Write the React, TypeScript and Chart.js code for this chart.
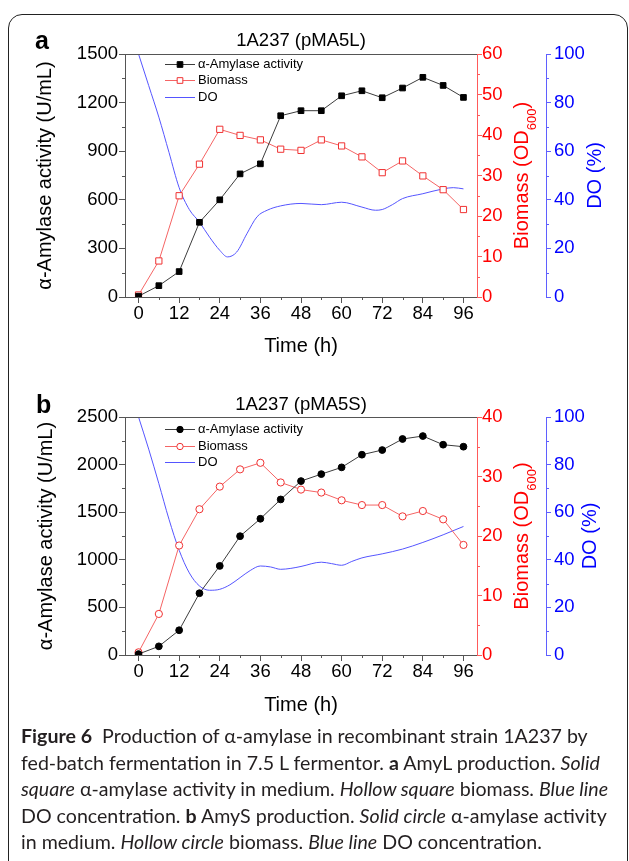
import React, { useEffect, useRef } from 'react';
import { Chart, registerables } from 'chart.js';

Chart.register(...registerables);

// ---------- data ----------
const hours = [0, 6, 12, 18, 24, 30, 36, 42, 48, 54, 60, 66, 72, 78, 84, 90, 96];

const amylaseA = [5, 70, 157, 461, 600, 760, 822, 1119, 1150, 1150, 1242, 1273, 1230, 1290, 1356, 1306, 1232];
const biomassA = [0.5, 8.9, 25.0, 32.8, 41.4, 39.9, 38.8, 36.5, 36.2, 38.8, 37.3, 34.6, 30.7, 33.6, 29.9, 26.5, 21.6];
const doHoursA = [0, 3, 6, 9, 12, 15, 18, 21, 24, 26.3, 29, 32, 35, 38, 42, 48, 54, 60, 66, 70, 72, 75, 78, 84, 90, 93, 96];
const doPercentA = [100, 87, 74, 59.5, 45, 36, 30.8, 24.6, 19.2, 16.5, 18.5, 26, 33, 35.7, 37.5, 38.5, 38, 39, 37, 35.7, 36, 38, 40.5, 42.5, 44.5, 45, 44.5];

const amylaseB = [10, 91, 260, 649, 936, 1248, 1431, 1634, 1827, 1900, 1971, 2104, 2153, 2269, 2300, 2209, 2188];
const biomassB = [0.45, 6.9, 18.4, 24.5, 28.3, 31.2, 32.3, 29.0, 27.8, 27.3, 26.0, 25.2, 25.2, 23.3, 24.2, 22.8, 18.5];
const doHoursB = [0, 3, 6, 9, 12, 15, 18, 21, 24, 27, 30, 33, 36, 39, 42, 45, 48, 54, 57, 60, 63, 66, 72, 78, 84, 90, 96];
const doPercentB = [100, 86.5, 72, 57, 44, 34.5, 29, 27.2, 27.6, 29.5, 32.5, 35.5, 37.4, 37, 36, 36.4, 37.2, 39, 38.4, 37.7, 39.3, 40.8, 42.5, 44.5, 47.3, 50.5, 54];

const xTicks = [0, 12, 24, 36, 48, 60, 72, 84, 96];
const xMinor = [6, 18, 30, 42, 54, 66, 78, 90];
const leftTicksA = [0, 300, 600, 900, 1200, 1500];
const leftMinorA = [150, 450, 750, 1050, 1350];
const redTicksA = [0, 10, 20, 30, 40, 50, 60];
const redMinorA = [5, 15, 25, 35, 45, 55];
const leftTicksB = [0, 500, 1000, 1500, 2000, 2500];
const leftMinorB = [250, 750, 1250, 1750, 2250];
const redTicksB = [0, 10, 20, 30, 40];
const redMinorB = [5, 15, 25, 35];
const doTicks = [0, 20, 40, 60, 80, 100];
const doMinor = [10, 30, 50, 70, 90];

const seriesNames = ['α-Amylase activity', 'Biomass', 'DO'];

// ---------- styles ----------
const FONT = "'Liberation Sans', Arial, sans-serif";
const AXIS = '#555555';
const RED_AXIS = 'rgb(255,90,90)';
const BLUE_AXIS = 'rgb(95,95,255)';
const RED_TXT = '#ff0000';
const BLUE_TXT = '#0000ff';
const AMY_LINE = '#3c3c3c';
const BIO_LINE = 'rgb(245,100,100)';
const BIO_MARK = 'rgb(240,50,50)';
const DO_LINE = 'rgb(85,85,255)';
const TICK_SIZE = 18.5;
const TITLE_SIZE = 20;

type Spec = {
  title: string;
  amylase: number[];
  biomass: number[];
  doX: number[];
  doY: number[];
  leftMax: number;
  leftTicks: number[];
  leftMinor: number[];
  redMax: number;
  redTicks: number[];
  redMinor: number[];
  marker: 'rect' | 'circle';
  canvasH: number;
  padTop: number;
  xHeight: number;
  xTitlePad: number;
  leftTitlePad: number;
  titleGap: number;
  bioTitleX: number;
  doTitleX: number;
  legendTop: number;
  legendGap: number;
};

function drawMarker(ctx: CanvasRenderingContext2D, kind: string, filled: boolean, x: number, y: number, r: number, stroke: string) {
  ctx.save();
  ctx.lineWidth = 1;
  ctx.strokeStyle = stroke;
  ctx.fillStyle = filled ? stroke : '#ffffff';
  ctx.beginPath();
  if (kind === 'rect') {
    const s = Math.SQRT1_2 * r;
    ctx.rect(x - s, y - s, 2 * s, 2 * s);
  } else {
    ctx.arc(x, y, r, 0, Math.PI * 2);
  }
  ctx.fill();
  ctx.stroke();
  ctx.restore();
}

function extrasPlugin(s: Spec) {
  return {
    id: 'panelExtras',
    afterDraw(chart: any) {
      const { ctx, chartArea: ca, scales } = chart;
      ctx.save();
      // top frame line
      ctx.strokeStyle = AXIS;
      ctx.lineWidth = 1;
      const ty = Math.round(ca.top) + 0.5;
      ctx.beginPath();
      ctx.moveTo(ca.left, ty);
      ctx.lineTo(ca.right, ty);
      ctx.stroke();

      // minor ticks
      const minor = (scale: any, values: number[], side: string, color: string, len: number) => {
        ctx.strokeStyle = color;
        ctx.lineWidth = 1;
        values.forEach((v) => {
          const p = Math.round(scale.getPixelForValue(v)) + 0.5;
          ctx.beginPath();
          if (side === 'left') {
            ctx.moveTo(scale.right, p);
            ctx.lineTo(scale.right - len, p);
          } else if (side === 'right') {
            ctx.moveTo(scale.left, p);
            ctx.lineTo(scale.left + len, p);
          } else {
            ctx.moveTo(p, scale.top);
            ctx.lineTo(p, scale.top + len);
          }
          ctx.stroke();
        });
      };
      minor(scales.x, xMinor, 'bottom', AXIS, 3);
      minor(scales.y, s.leftMinor, 'left', AXIS, 3);
      minor(scales.y2, s.redMinor, 'right', RED_AXIS, 3);
      minor(scales.y3, doMinor, 'right', BLUE_AXIS, 3);

      // panel title
      ctx.fillStyle = '#000';
      ctx.font = `18.5px ${FONT}`;
      ctx.textAlign = 'center';
      ctx.textBaseline = 'middle';
      ctx.fillText(s.title, (ca.left + ca.right) / 2, ca.top - s.titleGap);

      // right-axis titles (rotated, reading bottom-to-top)
      const cy = (ca.top + ca.bottom) / 2;
      ctx.textAlign = 'left';
      ctx.textBaseline = 'alphabetic';
      // Biomass (OD600)
      ctx.save();
      ctx.translate(s.bioTitleX, cy);
      ctx.rotate(-Math.PI / 2);
      ctx.fillStyle = RED_TXT;
      const big = `${TITLE_SIZE}px ${FONT}`;
      const small = `13px ${FONT}`;
      ctx.font = big;
      const w1 = ctx.measureText('Biomass (OD').width;
      const w3 = ctx.measureText(')').width;
      ctx.font = small;
      const w2 = ctx.measureText('600').width;
      const x0 = -(w1 + w2 + w3) / 2;
      ctx.font = big;
      ctx.fillText('Biomass (OD', x0, 0);
      ctx.font = small;
      ctx.fillText('600', x0 + w1, 8);
      ctx.font = big;
      ctx.fillText(')', x0 + w1 + w2, 0);
      ctx.restore();
      // DO (%)
      ctx.save();
      ctx.translate(s.doTitleX, cy);
      ctx.rotate(-Math.PI / 2);
      ctx.fillStyle = BLUE_TXT;
      ctx.font = big;
      const wd = ctx.measureText('DO (%)').width;
      ctx.fillText('DO (%)', -wd / 2, 0);
      ctx.restore();

      // legend
      const lx0 = ca.left + 40;
      const lx1 = ca.left + 70;
      const mx = ca.left + 55;
      const tx = ca.left + 73;
      ctx.font = `13px ${FONT}`;
      ctx.textAlign = 'left';
      ctx.textBaseline = 'middle';
      const rows = [
        { color: AMY_LINE, mark: true, filled: true, mcolor: '#000' },
        { color: BIO_LINE, mark: true, filled: false, mcolor: BIO_MARK },
        { color: DO_LINE, mark: false, filled: false, mcolor: DO_LINE },
      ];
      rows.forEach((r, i) => {
        const y = ca.top + s.legendTop + i * s.legendGap;
        const yy = Math.round(y) + 0.5;
        ctx.strokeStyle = r.color;
        ctx.lineWidth = 1;
        ctx.beginPath();
        ctx.moveTo(lx0, yy);
        ctx.lineTo(lx1, yy);
        ctx.stroke();
        if (r.mark) {
          drawMarker(ctx, s.marker, r.filled, mx, yy, s.marker === 'rect' ? 4 : 3.2, r.mcolor);
        }
        ctx.fillStyle = '#000';
        ctx.fillText(seriesNames[i], tx, y + 0.5);
      });
      ctx.restore();
    },
  };
}

function makeConfig(s: Spec): any {
  const pts = (xs: number[], ys: number[]) => xs.map((x, i) => ({ x, y: ys[i] }));
  const tickFont = { family: FONT, size: TICK_SIZE };
  const fmt = (v: any) => String(v);
  return {
    type: 'line',
    data: {
      datasets: [
        {
          label: seriesNames[0],
          data: pts(hours, s.amylase),
          yAxisID: 'y',
          borderColor: AMY_LINE,
          borderWidth: 1,
          pointStyle: s.marker,
          pointRadius: s.marker === 'rect' ? 4 : 3.4,
          pointBackgroundColor: '#000',
          pointBorderColor: '#000',
          pointBorderWidth: 1,
          tension: 0,
        },
        {
          label: seriesNames[1],
          data: pts(hours, s.biomass),
          yAxisID: 'y2',
          borderColor: BIO_LINE,
          borderWidth: 1,
          pointStyle: s.marker,
          pointRadius: s.marker === 'rect' ? 4.4 : 3.6,
          pointBackgroundColor: '#ffffff',
          pointBorderColor: BIO_MARK,
          pointBorderWidth: 1,
          tension: 0,
        },
        {
          label: seriesNames[2],
          data: pts(s.doX, s.doY),
          yAxisID: 'y3',
          borderColor: DO_LINE,
          borderWidth: 1,
          pointRadius: 0,
          cubicInterpolationMode: 'monotone',
        },
      ],
    },
    options: {
      animation: false,
      responsive: false,
      devicePixelRatio: 1,
      layout: { padding: { top: s.padTop, left: 0, right: 0, bottom: 0 } },
      plugins: {
        legend: { display: false },
        tooltip: { enabled: false },
        title: { display: false },
      },
      scales: {
        x: {
          type: 'linear',
          position: 'bottom',
          min: -4,
          max: 100,
          afterBuildTicks: (sc: any) => {
            sc.ticks = xTicks.map((v) => ({ value: v }));
          },
          afterFit: (sc: any) => {
            sc.height = s.xHeight;
          },
          ticks: { font: tickFont, color: '#000', padding: 0, maxRotation: 0, autoSkip: false, callback: fmt },
          grid: { display: true, drawOnChartArea: false, drawTicks: true, tickLength: 6, color: AXIS, tickColor: AXIS },
          border: { display: true, color: AXIS, width: 1 },
          title: {
            display: true,
            text: 'Time (h)',
            color: '#000',
            font: { family: FONT, size: TITLE_SIZE },
            padding: { top: 0, bottom: s.xTitlePad },
          },
        },
        y: {
          type: 'linear',
          position: 'left',
          min: 0,
          max: s.leftMax,
          afterBuildTicks: (sc: any) => {
            sc.ticks = s.leftTicks.map((v) => ({ value: v }));
          },
          afterFit: (sc: any) => {
            sc.width = 125;
          },
          ticks: { font: tickFont, color: '#000', padding: 1, callback: fmt },
          grid: { display: true, drawOnChartArea: false, drawTicks: true, tickLength: 6, color: AXIS, tickColor: AXIS },
          border: { display: true, color: AXIS, width: 1 },
          title: {
            display: true,
            text: 'α-Amylase activity (U/mL)',
            color: '#000',
            font: { family: FONT, size: TITLE_SIZE },
            padding: { top: s.leftTitlePad, bottom: 0 },
          },
        },
        y2: {
          type: 'linear',
          position: 'right',
          min: 0,
          max: s.redMax,
          afterBuildTicks: (sc: any) => {
            sc.ticks = s.redTicks.map((v) => ({ value: v }));
          },
          afterFit: (sc: any) => {
            sc.width = 69;
          },
          ticks: { font: tickFont, color: RED_TXT, padding: 0, callback: fmt },
          grid: { display: true, drawOnChartArea: false, drawTicks: true, tickLength: 5, color: RED_AXIS, tickColor: RED_AXIS },
          border: { display: true, color: RED_AXIS, width: 1 },
        },
        y3: {
          type: 'linear',
          position: 'right',
          min: 0,
          max: 100,
          afterBuildTicks: (sc: any) => {
            sc.ticks = doTicks.map((v) => ({ value: v }));
          },
          afterFit: (sc: any) => {
            sc.width = 83;
          },
          ticks: { font: tickFont, color: BLUE_TXT, padding: 3, callback: fmt },
          grid: { display: true, drawOnChartArea: false, drawTicks: true, tickLength: 5, color: BLUE_AXIS, tickColor: BLUE_AXIS },
          border: { display: true, color: BLUE_AXIS, width: 1 },
        },
      },
    },
    plugins: [extrasPlugin(s)],
  };
}

const specA: Spec = {
  title: '1A237 (pMA5L)',
  amylase: amylaseA,
  biomass: biomassA,
  doX: doHoursA,
  doY: doPercentA,
  leftMax: 1500,
  leftTicks: leftTicksA,
  leftMinor: leftMinorA,
  redMax: 60,
  redTicks: redTicksA,
  redMinor: redMinorA,
  marker: 'rect',
  canvasH: 350,
  padTop: 34,
  xHeight: 73,
  xTitlePad: 12,
  leftTitlePad: 33,
  titleGap: 13,
  bioTitleX: 528,
  doTitleX: 601,
  legendTop: 10,
  legendGap: 16.4,
};

const specB: Spec = {
  title: '1A237 (pMA5S)',
  amylase: amylaseB,
  biomass: biomassB,
  doX: doHoursB,
  doY: doPercentB,
  leftMax: 2500,
  leftTicks: leftTicksB,
  leftMinor: leftMinorB,
  redMax: 40,
  redTicks: redTicksB,
  redMinor: redMinorB,
  marker: 'circle',
  canvasH: 345,
  padTop: 37,
  xHeight: 70,
  xTitlePad: 8,
  leftTitlePad: 34,
  titleGap: 12.5,
  bioTitleX: 528,
  doTitleX: 596,
  legendTop: 12,
  legendGap: 16.5,
};

function Panel({ spec, top }: { spec: Spec; top: number }) {
  const ref = useRef<HTMLCanvasElement | null>(null);
  useEffect(() => {
    if (!ref.current) return;
    const chart = new Chart(ref.current, makeConfig(spec));
    return () => chart.destroy();
  }, [spec]);
  return (
    <canvas
      ref={ref}
      width={629}
      height={spec.canvasH}
      style={{ position: 'absolute', left: 0, top, width: 629, height: spec.canvasH }}
    />
  );
}

export default function App() {
  const capStyle: React.CSSProperties = {
    position: 'absolute',
    left: 21,
    top: 723,
    fontFamily: "Lato, 'Open Sans', sans-serif",
    fontSize: 19.6,
    lineHeight: '26.6px',
    color: '#231f20',
    whiteSpace: 'nowrap',
  };
  const lab: React.CSSProperties = {
    position: 'absolute',
    fontFamily: FONT,
    fontWeight: 'bold',
    fontSize: 25,
    lineHeight: 1,
    color: '#000',
  };
  return (
    <div style={{ position: 'fixed', left: 0, top: 0, width: 629, height: 861, overflow: 'hidden', background: '#fff' }}>
      <div
        style={{
          position: 'absolute',
          left: 8,
          top: 14,
          width: 620,
          height: 900,
          border: '1.5px solid #222',
          borderRadius: 14,
          boxSizing: 'border-box',
        }}
      />
      <Panel spec={specA} top={20} />
      <Panel spec={specB} top={380} />
      <div style={{ ...lab, left: 35, top: 28 }}>a</div>
      <div style={{ ...lab, left: 36, top: 392 }}>b</div>
      <div style={capStyle}>
        <b>Figure 6</b>&nbsp; Production of α-amylase in recombinant strain 1A237 by
        <br />
        fed-batch fermentation in 7.5 L fermentor. <b>a</b> AmyL production. <i>Solid</i>
        <br />
        <i>square</i> α-amylase activity in medium. <i>Hollow square</i> biomass. <i>Blue line</i>
        <br />
        DO concentration. <b>b</b> AmyS production. <i>Solid circle</i> α-amylase activity
        <br />
        in medium. <i>Hollow circle</i> biomass. <i>Blue line</i> DO concentration.
      </div>
    </div>
  );
}
